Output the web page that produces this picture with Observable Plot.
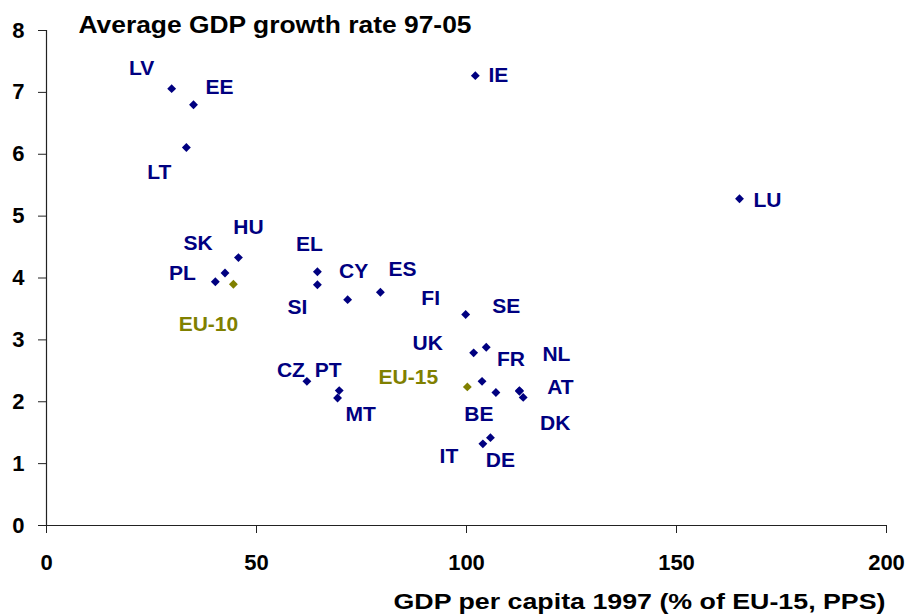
<!DOCTYPE html>
<html>
<head>
<meta charset="utf-8">
<script src="https://cdn.jsdelivr.net/npm/d3@7"></script>
<script src="https://cdn.jsdelivr.net/npm/@observablehq/plot@0.6"></script>
<style>
  html, body { margin: 0; padding: 0; background: #fff; }
  #chart svg { display: block; }
</style>
</head>
<body>
<div id="chart"></div>
<script>
// ---- Data ----
const countries = ["LV","EE","LT","IE","LU","HU","SK","PL","EL","SI","CY","ES","CZ","PT","MT","FI","SE","UK","FR","NL","AT","DK","BE","IT","DE"];
const gdpPerCapita1997 = [29.8, 35.0, 33.3, 102.1, 165.0, 45.7, 42.5, 40.2, 64.5, 64.5, 71.7, 79.5, 62.0, 69.7, 69.3, 99.8, 104.7, 101.7, 103.7, 112.6, 112.6, 113.5, 107.0, 103.9, 105.7];
const avgGrowth9705 = [7.06, 6.80, 6.11, 7.27, 5.28, 4.33, 4.08, 3.94, 4.10, 3.89, 3.65, 3.77, 2.33, 2.18, 2.06, 3.41, 2.88, 2.79, 2.33, 2.18, 2.17, 2.07, 2.15, 1.32, 1.42];

const aggregates = ["EU-10", "EU-15"];
const aggGdpPerCapita1997 = [44.5, 100.2];
const aggAvgGrowth9705 = [3.90, 2.24];

const xTicks = [0, 50, 100, 150, 200];
const yTicks = [0, 1, 2, 3, 4, 5, 6, 7, 8];

const titleText = "Average GDP growth rate 97-05";
const xLabelText = "GDP per capita 1997 (% of EU-15, PPS)";

// ---- Label placement (pixel offsets of each label from its marker) ----
const labelOffset = {
  LV: [-30, -20], EE: [26, -17], LT: [-27, 25], IE: [23, 0], LU: [28, 1],
  HU: [10, -30], SK: [-27, -30], PL: [-33, -8], EL: [-8, -28], SI: [-20, 22],
  CY: [6, -28], ES: [22, -23], CZ: [-16, -11], PT: [-11, -20], MT: [23, 16],
  FI: [-35, -16], SE: [20, -41], UK: [-46, -10], FR: [29, -22], NL: [37, -36],
  AT: [41, -4], DK: [32, 26], BE: [-17, 22], IT: [-34, 12], DE: [10, 23],
  "EU-10": [-25, 40], "EU-15": [-59, -10]
};

const rows = countries.map((c, i) => ({name: c, x: gdpPerCapita1997[i], y: avgGrowth9705[i]}));
const aggRows = aggregates.map((c, i) => ({name: c, x: aggGdpPerCapita1997[i], y: aggAvgGrowth9705[i]}));

const NAVY = "#000080";
const OLIVE = "#808000";
const AXIS = "#222";
const FONT = "'Liberation Sans', Arial, Helvetica, sans-serif";

function labelMarks(data, color) {
  return data.map(d => Plot.text([d], {
    x: "x", y: "y", text: "name",
    dx: labelOffset[d.name][0], dy: labelOffset[d.name][1],
    fill: color, fontSize: 21, fontWeight: "bold"
  }));
}

const chart = Plot.plot({
  width: 911,
  height: 614,
  marginTop: 30,
  marginRight: 25,
  marginBottom: 89,
  marginLeft: 46,
  style: {fontFamily: FONT, fontSize: "22px", fontWeight: "bold", color: "#000", background: "#fff"},
  x: {domain: [0, 200]},
  y: {domain: [0, 8]},
  marks: [
    Plot.axisX({ticks: xTicks, tickSize: 8, tickPadding: 21, label: null, stroke: AXIS, fontSize: 22, fontWeight: "bold", fill: "#000"}),
    Plot.axisY({ticks: yTicks, tickSize: 8, tickPadding: 14, label: null, stroke: AXIS, fontSize: 22, fontWeight: "bold", fill: "#000"}),
    Plot.ruleY([0], {stroke: AXIS, strokeWidth: 1.2}),
    Plot.ruleX([0], {stroke: AXIS, strokeWidth: 1.2}),
    Plot.dot(rows, {x: "x", y: "y", symbol: "diamond2", r: 4, fill: NAVY, stroke: "none"}),
    Plot.dot(aggRows, {x: "x", y: "y", symbol: "diamond2", r: 4, fill: OLIVE, stroke: "none"}),
    ...labelMarks(rows, NAVY),
    ...labelMarks(aggRows, OLIVE),
    Plot.text([titleText], {frameAnchor: "top-left", dx: 32, dy: -5, textAnchor: "start", lineAnchor: "middle", fontSize: 23, fontWeight: "bold", fill: "#000", className: "chart-title"}),
    Plot.text([xLabelText], {frameAnchor: "bottom-right", dx: -1, dy: 76, textAnchor: "end", lineAnchor: "middle", fontSize: 22, fontWeight: "bold", fill: "#000", className: "chart-xlabel"})
  ]
});

document.getElementById("chart").appendChild(chart);

// stretch title & axis label horizontally to match the reference's proportions
d3.select(chart).selectAll("g.chart-title text").attr("textLength", 393).attr("lengthAdjust", "spacingAndGlyphs");
d3.select(chart).selectAll("g.chart-xlabel text").attr("textLength", 492).attr("lengthAdjust", "spacingAndGlyphs");
</script>
</body>
</html>
